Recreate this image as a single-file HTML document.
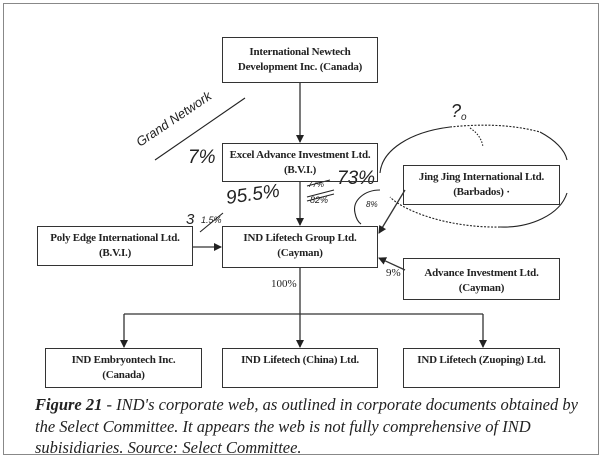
<!DOCTYPE html>
<html><head><meta charset="utf-8"><style>
html,body{margin:0;padding:0;background:#fff;}
body{width:605px;height:465px;position:relative;overflow:hidden;font-family:"Liberation Serif",serif;}
.frame{position:absolute;left:3px;top:3px;width:594px;height:450px;border:1px solid #888;}
.b{position:absolute;border:1.5px solid #333;box-sizing:border-box;text-align:center;font-weight:bold;font-size:11px;line-height:15px;color:#222;padding-top:4px;white-space:nowrap;letter-spacing:-0.2px;}
.cap{position:absolute;left:35px;top:394px;width:550px;font-style:italic;font-size:16.5px;line-height:21.5px;color:#222;}
</style></head><body>
<div class="frame"></div>
<svg width="605" height="465" style="position:absolute;left:0;top:0">
<defs><marker id="a" markerWidth="8" markerHeight="8" refX="7" refY="4" orient="auto" markerUnits="userSpaceOnUse"><path d="M0,0 L8,4 L0,8z" fill="#222"/></marker></defs>
<g stroke="#333" stroke-width="1.3" fill="none">
<line x1="300" y1="83" x2="300" y2="142" marker-end="url(#a)"/>
<line x1="300" y1="182" x2="300" y2="225" marker-end="url(#a)"/>
<line x1="193" y1="247" x2="221" y2="247" marker-end="url(#a)"/>
<line x1="405" y1="190" x2="379" y2="233" marker-end="url(#a)"/>
<line x1="405" y1="270" x2="379" y2="258" marker-end="url(#a)"/>
<line x1="300" y1="268" x2="300" y2="347" marker-end="url(#a)"/>
<line x1="124" y1="314" x2="483" y2="314"/>
<line x1="124" y1="314" x2="124" y2="347" marker-end="url(#a)"/>
<line x1="483" y1="314" x2="483" y2="347" marker-end="url(#a)"/>
</g>
<g stroke="#222" stroke-width="1.1" fill="none">
<path d="M155,160 L245,98"/>
<path d="M380,173 C382,150 410,132 450,127"/>
<path d="M450,127 C480,124 510,124 540,132" stroke-dasharray="2,1.5"/>
<path d="M540,132 C555,140 565,150 567,160"/>
<path d="M567,193 C560,215 530,228 500,227"/>
<path d="M500,227 C450,228 405,212 390,197" stroke-dasharray="2,1.5"/>
<path d="M470,128 C478,133 482,140 483,147" stroke-dasharray="1.5,1.5"/>
<path d="M380,190 C365,190 352,200 355,213 C356,218 358,222 361,224"/>
<path d="M200,232 L223,213"/>
<path d="M307,186 L330,180 M307,197 L334,190 M307,201 L334,194"/>
</g>
<g font-family="Liberation Sans,sans-serif" font-style="italic" fill="#222">
<text x="140" y="147" font-size="13" transform="rotate(-34 140 147)">Grand Network</text>
<text x="188" y="163" font-size="19">7%</text>
<text x="227" y="204" font-size="19" transform="rotate(-8 227 204)">95.5%</text>
<text x="337" y="184" font-size="19">73%</text>
<text x="308" y="187" font-size="8">77%</text>
<text x="310" y="203" font-size="9">82%</text>
<text x="186" y="224" font-size="15">3</text>
<text x="201" y="223" font-size="9">1.5%</text>
<text x="366" y="207" font-size="8">8%</text>
<text x="451" y="117" font-size="18">?</text>
<text x="461" y="120" font-size="10">o</text>
</g>
<text x="386" y="276" font-size="11" font-family="Liberation Serif,serif" fill="#222">9%</text>
<text x="271" y="287" font-size="11" font-family="Liberation Serif,serif" fill="#222">100%</text>
</svg>
<div class="b" style="left:222px;top:37px;width:156px;height:46px;padding-top:7px">International Newtech<br>Development Inc. (Canada)</div>
<div class="b" style="left:222px;top:143px;width:156px;height:39px">Excel Advance Investment Ltd.<br>(B.V.I.)</div>
<div class="b" style="left:403px;top:165px;width:157px;height:40px">Jing Jing International Ltd.<br>(Barbados) ·</div>
<div class="b" style="left:37px;top:226px;width:156px;height:40px">Poly Edge International Ltd.<br>(B.V.I.)</div>
<div class="b" style="left:222px;top:226px;width:156px;height:42px">IND Lifetech Group Ltd.<br>(Cayman)</div>
<div class="b" style="left:403px;top:258px;width:157px;height:42px;padding-top:7px">Advance Investment Ltd.<br>(Cayman)</div>
<div class="b" style="left:45px;top:348px;width:157px;height:40px">IND Embryontech Inc.<br>(Canada)</div>
<div class="b" style="left:222px;top:348px;width:156px;height:40px">IND Lifetech (China) Ltd.</div>
<div class="b" style="left:403px;top:348px;width:157px;height:40px">IND Lifetech (Zuoping) Ltd.</div>
<div class="cap"><b>Figure 21</b> - IND's corporate web, as outlined in corporate documents obtained by the Select Committee. It appears the web is not fully comprehensive of IND subisidiaries. Source: Select Committee.</div>
</body></html>
